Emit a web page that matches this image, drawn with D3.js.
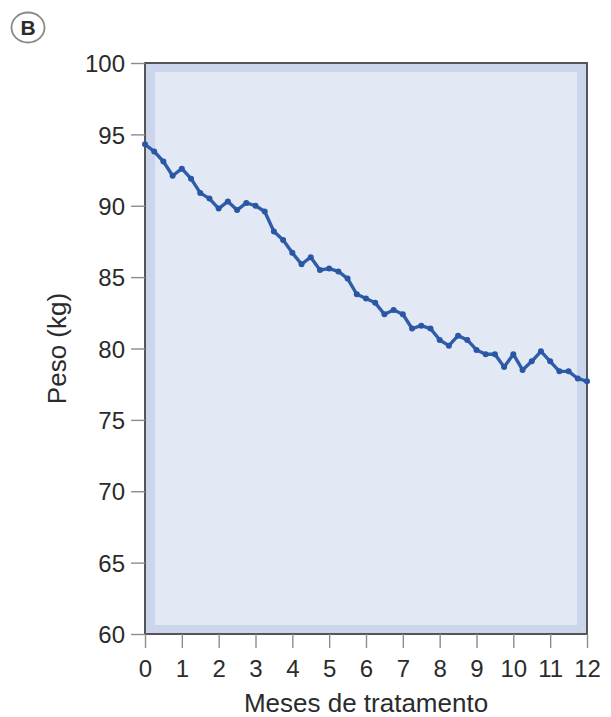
<!DOCTYPE html>
<html>
<head>
<meta charset="utf-8">
<script src="https://cdn.jsdelivr.net/npm/d3@7"></script>
<style>
  body { margin: 0; background: #fff; }
  text { font-family: "Liberation Sans", Arial, sans-serif; fill: #2b2b2b; }
</style>
</head>
<body>
<svg id="chart" width="611" height="717"></svg>
<script>
// months of treatment, sampled every quarter month
const months = d3.range(0, 12.01, 0.25);
const weights = [
  94.3, 93.8, 93.1, 92.1, 92.6, 91.9, 90.9, 90.5, 89.8, 90.3, 89.7, 90.2,
  90.0, 89.6, 88.2, 87.6, 86.7, 85.9, 86.4, 85.5, 85.6, 85.4, 84.9, 83.8,
  83.5, 83.2, 82.4, 82.7, 82.4, 81.4, 81.6, 81.4, 80.6, 80.2, 80.9, 80.6,
  79.9, 79.6, 79.6, 78.7, 79.6, 78.5, 79.1, 79.8, 79.1, 78.4, 78.4, 77.9,
  77.7
];
const xTicks = d3.range(0, 13, 1);
const yTicks = [60, 65, 70, 75, 80, 85, 90, 95, 100];

let margin = {top: 63, right: 24, bottom: 83, left: 145},
    width = 611 - margin.left - margin.right,
    height = 717 - margin.top - margin.bottom;

let svg = d3.select("#chart");

// panel letter
let badge = svg.append("g").attr("transform", "translate(28,27.5)");
badge.append("ellipse").attr("rx", 16.5).attr("ry", 15).attr("fill", "#fff")
    .attr("stroke", "#8a8a8a").attr("stroke-width", 1.8);
badge.append("text").attr("text-anchor", "middle").attr("dy", "0.36em")
    .style("font-size", "21px").style("font-weight", "bold").text("B");

let g = svg.append("g")
    .attr("transform", "translate(" + margin.left + "," + margin.top + ")");

let x = d3.scaleLinear().domain([0, 12]).range([0, width]);
let y = d3.scaleLinear().domain([60, 100]).range([height, 0]);

// plot background: darker band then lighter inner panel
g.append("rect").attr("width", width).attr("height", height).attr("fill", "#cbd5ec");
g.append("rect").attr("x", 10).attr("y", 9)
    .attr("width", width - 20).attr("height", height - 18).attr("fill", "#e3e8f5");
g.append("rect").attr("width", width).attr("height", height)
    .attr("fill", "none").attr("stroke", "#555").attr("stroke-width", 2);

// axes
let yAxis = g.append("g")
    .call(d3.axisLeft(y).tickValues(yTicks).tickSize(14).tickPadding(6));
let xAxis = g.append("g").attr("transform", "translate(0," + height + ")")
    .call(d3.axisBottom(x).tickValues(xTicks).tickSize(14).tickPadding(12));

[xAxis, yAxis].forEach(function(a) {
    a.select(".domain").remove();
    a.selectAll(".tick line").attr("stroke", "#8c8c8c").attr("stroke-width", 1.4);
    a.selectAll(".tick text").style("font-size", "24px").attr("fill", "#2b2b2b");
});
yAxis.selectAll(".tick text").attr("dy", "0.36em");

// series
let data = months.map(function(m, i) { return {m: m, w: weights[i]}; });

g.append("path").datum(data)
    .attr("fill", "none").attr("stroke", "#2f5da8").attr("stroke-width", 3.4)
    .attr("stroke-linejoin", "round")
    .attr("d", d3.line().x(function(d) { return x(d.m); }).y(function(d) { return y(d.w); }));

g.selectAll("circle.pt").data(data).enter().append("circle")
    .attr("class", "pt").attr("r", 3).attr("fill", "#2a57a3")
    .attr("cx", function(d) { return x(d.m); })
    .attr("cy", function(d) { return y(d.w); });

// titles
svg.append("text").attr("x", margin.left + width / 2).attr("y", 712)
    .attr("text-anchor", "middle").style("font-size", "26px").text("Meses de tratamento");
svg.append("text").attr("transform", "translate(66," + (margin.top + height / 2) + ") rotate(-90)")
    .attr("text-anchor", "middle").style("font-size", "26px").text("Peso (kg)");
</script>
</body>
</html>
